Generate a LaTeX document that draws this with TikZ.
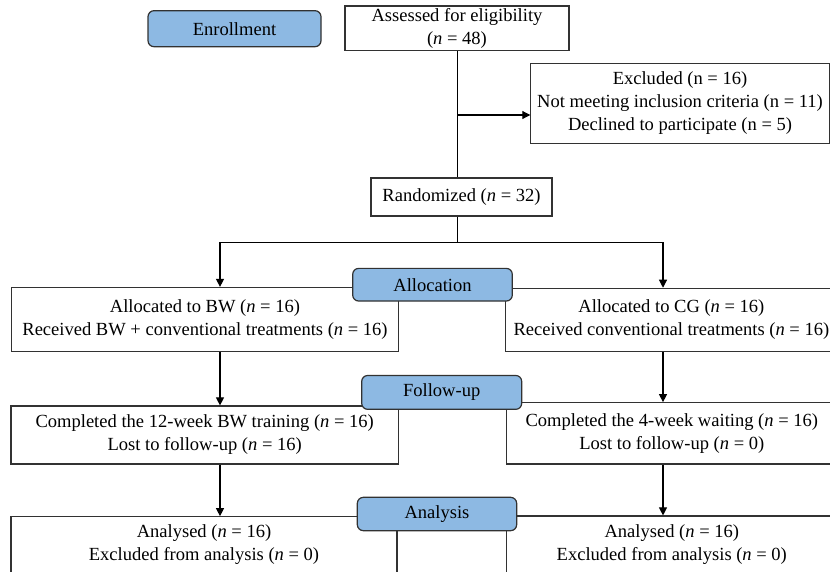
\documentclass[tikz,border=0pt]{standalone}
\usepackage{fontspec}
\setmainfont{Liberation Serif}
\usetikzlibrary{arrows.meta}

\definecolor{stageblue}{RGB}{141,185,227}
\definecolor{edgegray}{RGB}{50,50,50}

\begin{document}
\begin{tikzpicture} [x = 0.75pt, y = -0.75pt,
  font = \fontsize{13.9}{17.2}\selectfont,
  box/.style = {draw = edgegray, line width = 0.9pt, fill = white, align = center, inner sep = 0pt},
  stage/.style = {draw = edgegray, line width = 0.9pt, fill = stageblue, rounded corners = 4.5pt, inner sep = 0pt},
  arr/.style = {-{Triangle[length = 6pt, width = 6pt]}, line width = 0.8pt}]
\useasboundingbox (0,0) rectangle (830,571);
\clip (0,0) rectangle (830,571);
\node[box, minimum width = 168pt, minimum height = 33.5pt] (assess) at (457,28.3) {Assessed for eligibility\\(\textit{n} = 48)};
\node[box, minimum width = 223.7pt, minimum height = 60pt] (excl) at (680,103.3) {Excluded (n = 16)\\Not meeting inclusion criteria (n = 11)\\Declined to participate (n = 5)};
\node[box, minimum width = 135.75pt, minimum height = 28.5pt] (rand) at (461.5,197) {Randomized (\textit{n} = 32)};
\node[box, minimum width = 290pt, minimum height = 48pt] (bw1) at (205,319.5) {Allocated to BW (\textit{n} = 16)\\Received BW + conventional treatments (\textit{n} = 16)};
\node[box, minimum width = 248.5pt, minimum height = 47.5pt] (cg1) at (671.4,320) {Allocated to CG (\textit{n} = 16)\\Received conventional treatments (\textit{n} = 16)};
\node[box, minimum width = 290.5pt, minimum height = 43.5pt] (bw2) at (204.7,435) {Completed the 12-week BW training (\textit{n} = 16)\\Lost to follow-up (\textit{n} = 16)};
\node[box, minimum width = 247.7pt, minimum height = 46pt] (cg2) at (671.8,433.4) {Completed the 4-week waiting (\textit{n} = 16)\\Lost to follow-up (\textit{n} = 0)};
\node[box, minimum width = 289.5pt, minimum height = 42.2pt] (bw3) at (204,544.9) {Analysed (\textit{n} = 16)\\Excluded from analysis (\textit{n} = 0)};
\node[box, minimum width = 247.7pt, minimum height = 42.7pt] (cg3) at (671.8,544.5) {Analysed (\textit{n} = 16)\\Excluded from analysis (\textit{n} = 0)};
\node[stage, minimum width = 129.75pt, minimum height = 27pt] (enroll) at (234.5,28.7) {Enrollment};
\node[stage, minimum width = 119.7pt, minimum height = 24.5pt] (alloc) at (432.5,284.7) {Allocation};
\node[stage, minimum width = 120pt, minimum height = 25.4pt] (follow) at (441.7,392.4) {Follow-up};
\node[stage, minimum width = 119.5pt, minimum height = 25pt] (anal) at (437,514) {Analysis};
\coordinate (branch) at (457.7,115);
\coordinate (split) at (457.7,242.7);
\coordinate (left) at (220,242.7);
\coordinate (right) at (663,242.7);
\draw[line width = 0.8pt] (assess.south -| split) -- (rand.north -| split);
\draw[arr] (branch) -- (branch -| excl.west);
\draw[line width = 0.8pt] (rand.south -| split) -- (split);
\draw[arr] (split) -- (left) -- (left |- bw1.north);
\draw[arr] (split) -- (right) -- (right |- cg1.north);
\draw[arr] (left |- bw1.south) -- (left |- bw2.north);
\draw[arr] (right |- cg1.south) -- (right |- cg2.north);
\draw[arr] (left |- bw2.south) -- (left |- bw3.north);
\draw[arr] (right |- cg2.south) -- (right |- cg3.north);
\end{tikzpicture}
\end{document}
